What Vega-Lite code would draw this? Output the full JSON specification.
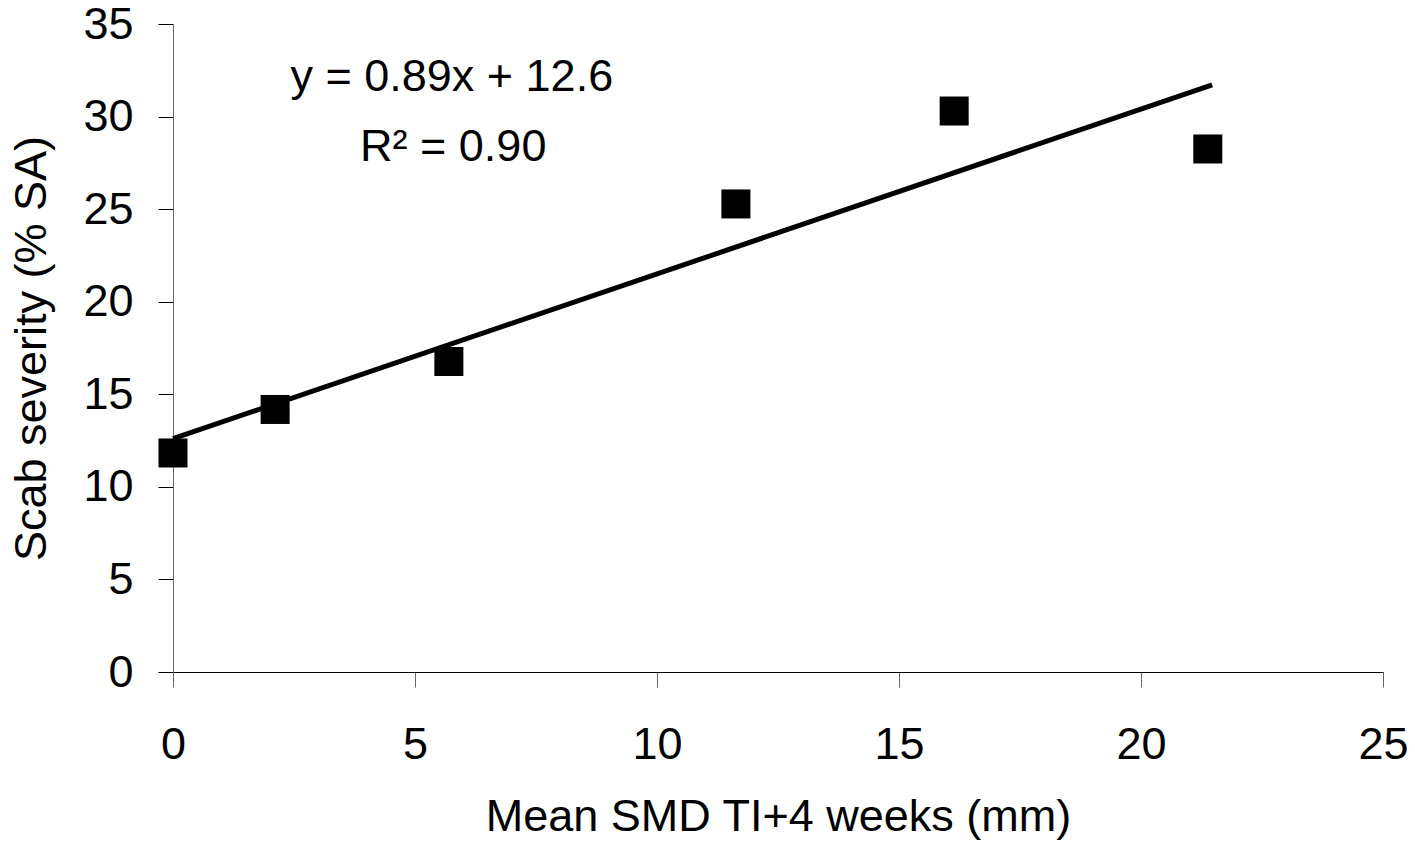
{
  "$schema": "https://vega.github.io/schema/vega-lite/v6.json",
  "autosize": {"type": "none"},
  "padding": {"left": 173, "top": 24, "right": 32, "bottom": 173},
  "width": 1210,
  "height": 648,
  "background": "white",
  "config": {
    "view": {"stroke": null},
    "font": "Liberation Sans",
    "axis": {
      "labelFont": "Liberation Sans",
      "titleFont": "Liberation Sans",
      "labelFontSize": 45,
      "titleFontSize": 45,
      "titleFontWeight": "normal",
      "labelColor": "black",
      "titleColor": "black",
      "grid": false,
      "tickSize": 15,
      "domainWidth": 1,
      "tickWidth": 1
    }
  },
  "datasets": {
    "points": [
      {"smd": 0.0, "severity": 11.83},
      {"smd": 2.11, "severity": 14.18},
      {"smd": 5.70, "severity": 16.77},
      {"smd": 11.63, "severity": 25.28},
      {"smd": 16.14, "severity": 30.30},
      {"smd": 21.38, "severity": 28.25}
    ],
    "fit": [
      {"smd": 0.0, "severity": 12.6},
      {"smd": 21.47, "severity": 31.71}
    ],
    "labels": [
      {"smd": 5.76, "severity": 31.37, "label": "y = 0.89x + 12.6"},
      {"smd": 5.79, "severity": 27.6, "label": "R² = 0.90"}
    ]
  },
  "encoding": {
    "x": {
      "field": "smd",
      "type": "quantitative",
      "scale": {"domain": [0, 25], "nice": false, "zero": false},
      "axis": {
        "title": "Mean SMD TI+4 weeks (mm)",
        "values": [0, 5, 10, 15, 20, 25],
        "labelPadding": 35,
        "titlePadding": 27,
        "domainColor": "black",
        "tickColor": "#666666",
        "labelFlush": false,
        "labelOverlap": false
      }
    },
    "y": {
      "field": "severity",
      "type": "quantitative",
      "scale": {"domain": [0, 35], "nice": false, "zero": false},
      "axis": {
        "title": "Scab severity (% SA)",
        "values": [0, 5, 10, 15, 20, 25, 30, 35],
        "labelPadding": 25,
        "titlePadding": 28,
        "domainColor": "#666666",
        "tickColor": "black",
        "labelFlush": false,
        "labelOverlap": false
      }
    }
  },
  "layer": [
    {
      "data": {"name": "fit"},
      "mark": {"type": "line", "color": "black", "strokeWidth": 5, "clip": false}
    },
    {
      "data": {"name": "points"},
      "mark": {"type": "point", "shape": "square", "filled": true, "size": 841, "color": "black", "opacity": 1, "strokeWidth": 0}
    },
    {
      "data": {"name": "labels"},
      "mark": {"type": "text", "font": "Liberation Sans", "fontSize": 45, "align": "center", "baseline": "alphabetic", "color": "black"},
      "encoding": {"text": {"field": "label", "type": "nominal"}}
    }
  ]
}
